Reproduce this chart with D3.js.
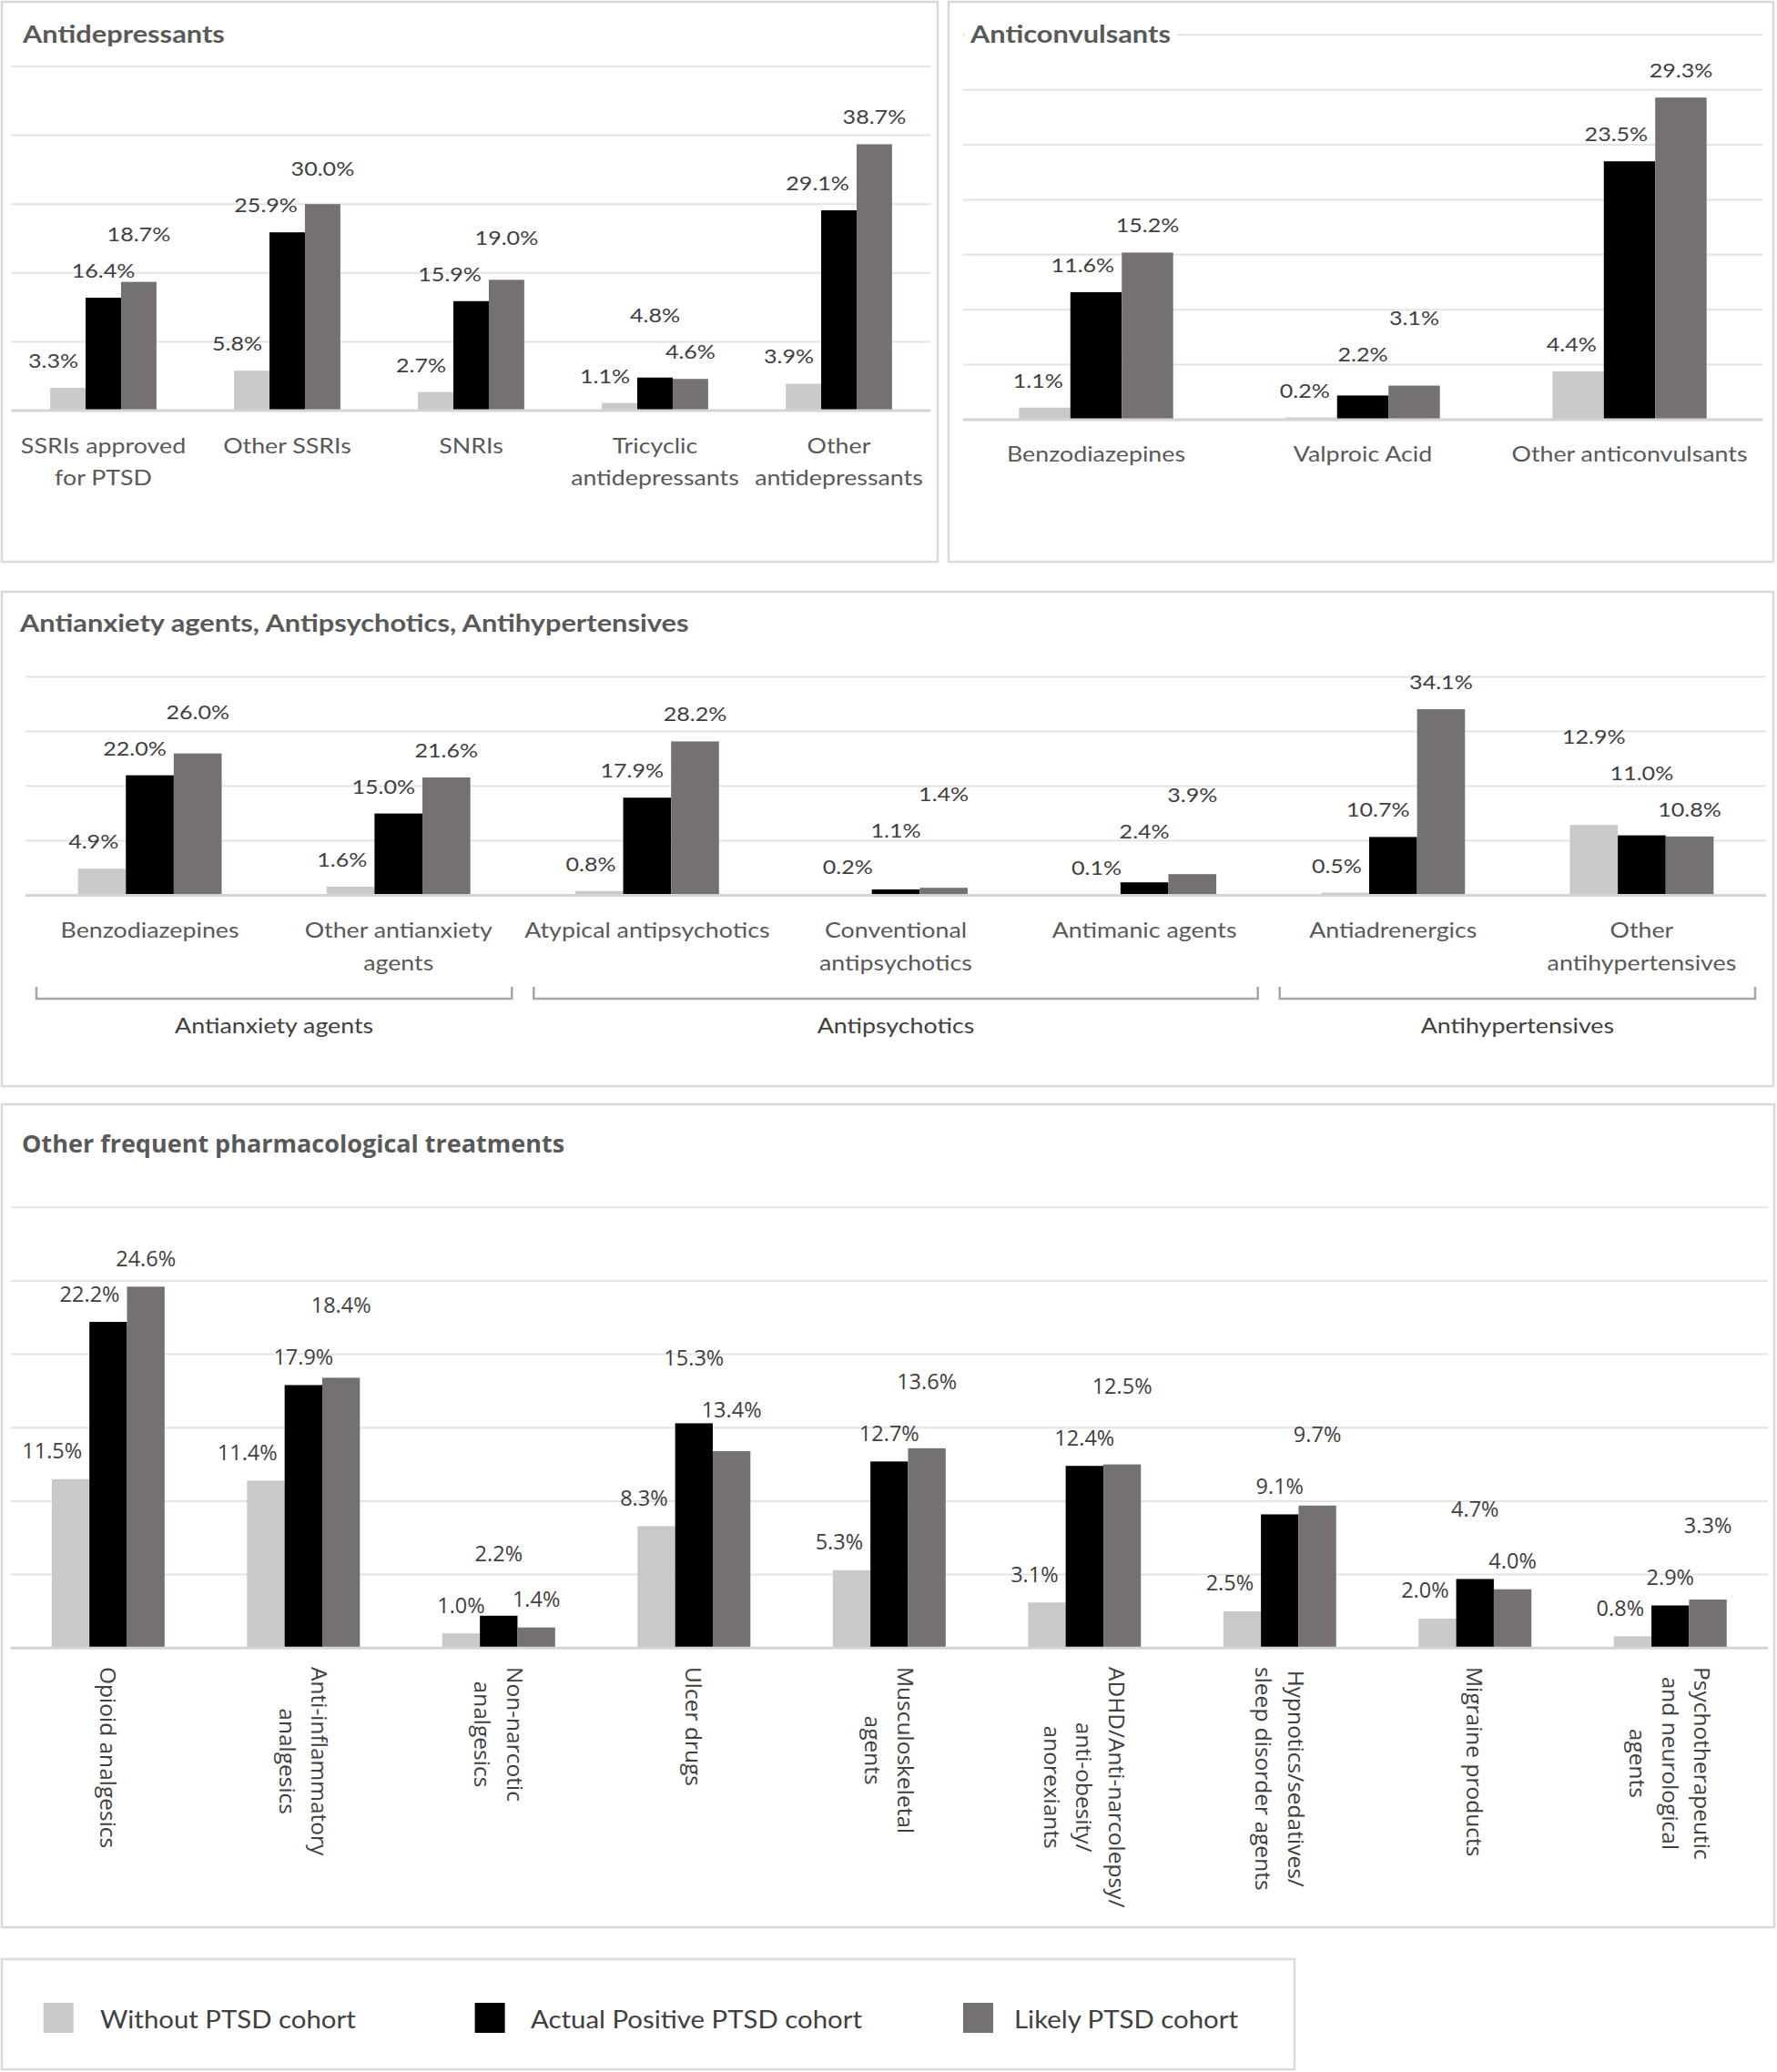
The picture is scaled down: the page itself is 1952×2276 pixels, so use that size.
<!DOCTYPE html>
<html><head><meta charset="utf-8">
<script src="https://cdn.jsdelivr.net/npm/d3@7"></script>
<style>body{margin:0;background:#fff} svg{display:block}</style>
</head><body>
<svg id="chart" width="1952" height="2276"></svg>
<script>
// ---------------- DATA ----------------
const seriesNames = ["Without PTSD cohort", "Actual Positive PTSD cohort", "Likely PTSD cohort"];

const antidepCategories = ["SSRIs approved\nfor PTSD", "Other SSRIs", "SNRIs", "Tricyclic\nantidepressants", "Other\nantidepressants"];
const antidepWithout = [3.3, 5.8, 2.7, 1.1, 3.9];
const antidepActual  = [16.4, 25.9, 15.9, 4.8, 29.1];
const antidepLikely  = [18.7, 30.0, 19.0, 4.6, 38.7];

const anticonvCategories = ["Benzodiazepines", "Valproic Acid", "Other anticonvulsants"];
const anticonvWithout = [1.1, 0.2, 4.4];
const anticonvActual  = [11.6, 2.2, 23.5];
const anticonvLikely  = [15.2, 3.1, 29.3];

const mixedCategories = ["Benzodiazepines", "Other antianxiety\nagents", "Atypical antipsychotics", "Conventional\nantipsychotics", "Antimanic agents", "Antiadrenergics", "Other\nantihypertensives"];
const mixedWithout = [4.9, 1.6, 0.8, 0.2, 0.1, 0.5, 12.9];
const mixedActual  = [22.0, 15.0, 17.9, 1.1, 2.4, 10.7, 11.0];
const mixedLikely  = [26.0, 21.6, 28.2, 1.4, 3.9, 34.1, 10.8];
const mixedGroupNames = ["Antianxiety agents", "Antipsychotics", "Antihypertensives"];
const mixedGroupFirst = [0, 2, 5];
const mixedGroupLast  = [1, 4, 6];

const otherCategories = ["Opioid analgesics", "Anti-inflammatory\nanalgesics", "Non-narcotic\nanalgesics", "Ulcer drugs", "Musculoskeletal\nagents", "ADHD/Anti-narcolepsy/\nanti-obesity/\nanorexiants", "Hypnotics/sedatives/\nsleep disorder agents", "Migraine products", "Psychotherapeutic\nand neurological\nagents"];
const otherWithout = [11.5, 11.4, 1.0, 8.3, 5.3, 3.1, 2.5, 2.0, 0.8];
const otherActual  = [22.2, 17.9, 2.2, 15.3, 12.7, 12.4, 9.1, 4.7, 2.9];
const otherLikely  = [24.6, 18.4, 1.4, 13.4, 13.6, 12.5, 9.7, 4.0, 3.3];

// ---------------- STYLE / LAYOUT ----------------
const seriesColors = ["#c9c9c9", "#000000", "#767171"];
const styles = {
  calibri: {font: "Lato", labelSize: 22, catSize: 23.5, titleSize: 27, sx: 1.14},
  segoe:   {font: "Open Sans", labelSize: 23.5, catSize: 24.5, titleSize: 27, sx: 1}
};

const panels = [
  {title: "Antidepressants", cats: antidepCategories, vals: [antidepWithout, antidepActual, antidepLikely],
   box: [2, 2, 1030, 617], titleX: 25, titleY: 46.5, left: 12.5, right: 1022.5, base: 451, top: 73, max: 50, step: 10,
   catY: 498, catLineH: 35.5, style: "calibri", H: 40, jump: 40, offset: 30},
  {title: "Anticonvulsants", cats: anticonvCategories, vals: [anticonvWithout, anticonvActual, anticonvLikely],
   box: [1042, 2, 1948, 617], titleX: 1066, titleY: 46.5, left: 1057.5, right: 1936.5, base: 461, top: 38.3, max: 35, step: 5,
   catY: 507, catLineH: 35.5, style: "calibri", H: 40, jump: 40, offset: 30, titleBg: true},
  {title: "Antianxiety agents, Antipsychotics, Antihypertensives", cats: mixedCategories, vals: [mixedWithout, mixedActual, mixedLikely],
   box: [2, 650, 1948, 1193], titleX: 22, titleY: 693.5, left: 28, right: 1940, base: 983.6, top: 743.6, max: 40, step: 10,
   catY: 1030, catLineH: 36, style: "calibri", H: 40, jump: 40, offset: 30,
   groups: true, bracketTop: 1084, bracketBottom: 1097, groupY: 1135, bracketInset: 12},
  {title: "Other frequent pharmacological treatments", cats: otherCategories, vals: [otherWithout, otherActual, otherLikely],
   box: [2, 1213, 1949, 2117], titleX: 24, titleY: 1265.5, left: 11.6, right: 1942, base: 1810.3, top: 1326.2, max: 30, step: 5,
   rotated: true, catTop: 1831, catLineH: 35.5, style: "segoe", H: 33, jump: 57, offset: 31}
];

const legendLayout = {box: [2, 2152, 1422, 2273], swatchX: [47.7, 521.6, 1058], textX: [110, 583, 1114], swatchY: 2200, swatch: 33, textY: 2228, size: 26, sx: 1.13};

const svg = d3.select("#chart");
const fmt = v => v.toFixed(1) + "%";
const labelColor = "#404040", catColor = "#595959", titleColor = "#595959";

function stretchedText(g, x, y, str, st, size, opts = {}) {
  const sx = opts.sx || st.sx;
  const t = g.append("text")
    .attr("transform", `translate(${x},${y}) scale(${sx},1)`)
    .attr("font-family", st.font)
    .attr("font-size", size)
    .attr("fill", opts.fill || labelColor)
    .attr("font-weight", opts.bold ? 700 : 400)
    .attr("text-anchor", opts.anchor || "start")
    .text(str);
  return t;
}

panels.forEach(p => {
  const st = styles[p.style];
  const g = svg.append("g");
  g.append("rect").attr("x", p.box[0]).attr("y", p.box[1])
    .attr("width", p.box[2] - p.box[0]).attr("height", p.box[3] - p.box[1])
    .attr("fill", "#fff").attr("stroke", "#d9d9d9").attr("stroke-width", 2.5);

  const y = d3.scaleLinear().domain([0, p.max]).range([p.base, p.top]);
  const idx = d3.range(p.cats.length);
  const gap = 2.19 / 5.19;
  const x0 = d3.scaleBand().domain(idx).range([p.left, p.right]).paddingInner(gap).paddingOuter(gap / 2);
  const x1 = d3.scaleBand().domain([0, 1, 2]).range([0, x0.bandwidth()]);

  // gridlines
  g.selectAll("line.grid").data(d3.range(p.step, p.max + 0.001, p.step)).join("line")
    .attr("x1", p.left).attr("x2", p.right).attr("y1", d => y(d)).attr("y2", d => y(d))
    .attr("stroke", "#e4e4e4").attr("stroke-width", 2);

  // title
  const tt = stretchedText(g, p.titleX, p.titleY, p.title, st, st.titleSize, {bold: true, fill: titleColor});
  if (p.titleBg) {
    const bb = tt.node().getBBox();
    g.insert("rect", () => tt.node()).attr("x", p.titleX - 6).attr("y", p.titleY - 26)
      .attr("width", bb.width * st.sx + 12).attr("height", 34).attr("fill", "#fff");
  }

  // bars
  const rows = idx.map(i => ({i, v: [0, 1, 2].map(s => p.vals[s][i])}));
  const grp = g.selectAll("g.cat").data(rows).join("g").attr("transform", d => `translate(${x0(d.i)},0)`);
  grp.selectAll("rect").data(d => d.v.map((v, s) => ({v, s}))).join("rect")
    .attr("x", d => x1(d.s)).attr("width", x1.bandwidth())
    .attr("y", d => y(d.v)).attr("height", d => y(0) - y(d.v))
    .attr("fill", d => seriesColors[d.s]);

  // axis line
  g.append("line").attr("x1", p.left).attr("x2", p.right).attr("y1", y(0)).attr("y2", y(0))
    .attr("stroke", "#d4d4d4").attr("stroke-width", 3);

  // data labels with simple collision avoidance
  const halfGlyph = 9, xgap = 8, xmargin = 10;
  rows.forEach(r => {
    const labs = r.v.map((v, s) => {
      const bx = x0(r.i) + x1(s), bw = x1.bandwidth(), top = y(v);
      const t = stretchedText(g, 0, 0, fmt(v), st, st.labelSize, {anchor: "middle", fill: labelColor});
      const w = t.node().getComputedTextLength() * st.sx;
      return {s, t, w, bx, bw, top, cy: top - p.offset};
    });
    const fixX = L => {
      L.cx = L.bx + L.bw / 2;
      if (L.s < 2) {
        const N = labs[L.s + 1];
        if (N.top < L.cy + halfGlyph && L.cx + L.w / 2 > N.bx - xgap) L.cx = N.bx - xgap - L.w / 2;
      }
      if (L.s > 0) {
        const Pv = labs[L.s - 1];
        if (Pv.top < L.cy + halfGlyph && L.cx - L.w / 2 < Pv.bx + Pv.bw) L.cy = Pv.top - halfGlyph - 6;
      }
    };
    const overlapX = (A, B) => (A.cx - A.w / 2 < B.cx + B.w / 2 + xmargin) && (B.cx - B.w / 2 < A.cx + A.w / 2 + xmargin);
    const order = labs.slice().sort((a, b) => b.cy - a.cy);
    const placed = [];
    order.forEach(L => {
      fixX(L);
      let moved = true, guard = 0;
      while (moved && guard++ < 10) {
        moved = false;
        for (const P of placed) {
          if (overlapX(L, P) && Math.abs(L.cy - P.cy) < p.H) {
            L.cy = P.cy - p.jump; fixX(L); moved = true;
          }
        }
      }
      placed.push(L);
    });
    labs.forEach(L => L.t.attr("transform", `translate(${L.cx},${L.cy + 0.36 * st.labelSize}) scale(${st.sx},1)`));
  });

  // category labels
  if (!p.rotated) {
    idx.forEach(i => {
      const lines = p.cats[i].split("\n");
      const cx = x0(i) + x0.bandwidth() / 2;
      const t = g.append("text")
        .attr("transform", `translate(${cx},${p.catY}) scale(${st.sx},1)`)
        .attr("font-family", st.font).attr("font-size", st.catSize).attr("fill", catColor)
        .attr("text-anchor", "middle");
      lines.forEach((ln, k) => t.append("tspan").attr("x", 0).attr("y", k * p.catLineH).text(ln));
    });
  } else {
    idx.forEach(i => {
      const lines = p.cats[i].split("\n");
      const n = lines.length;
      const cx = x0(i) + x0.bandwidth() / 2;
      const t = g.append("text")
        .attr("font-family", st.font).attr("font-size", st.catSize).attr("fill", labelColor)
        .attr("text-anchor", "middle");
      const spans = lines.map((ln, k) => t.append("tspan").attr("x", 0)
        .attr("y", (k - (n - 1) / 2) * p.catLineH + 0.36 * st.catSize).text(ln));
      const maxLen = d3.max(spans, s => s.node().getComputedTextLength());
      t.attr("transform", `translate(${cx},${p.catTop + maxLen / 2}) rotate(90)`);
    });
  }

  // group brackets
  if (p.groups) {
    mixedGroupNames.forEach((name, k) => {
      const xa = x0(mixedGroupFirst[k]) - x0.step() * gap / 2 + p.bracketInset;
      const xb = x0(mixedGroupLast[k]) + x0.bandwidth() + x0.step() * gap / 2 - p.bracketInset;
      g.append("path")
        .attr("d", `M${xa},${p.bracketTop}V${p.bracketBottom}H${xb}V${p.bracketTop}`)
        .attr("fill", "none").attr("stroke", "#a6a6a6").attr("stroke-width", 2.5);
      stretchedText(g, (xa + xb) / 2, p.groupY, name, st, st.catSize, {anchor: "middle", fill: labelColor});
    });
  }
});

// legend
(function () {
  const L = legendLayout, st = styles.calibri;
  const g = svg.append("g");
  g.append("rect").attr("x", L.box[0]).attr("y", L.box[1]).attr("width", L.box[2] - L.box[0]).attr("height", L.box[3] - L.box[1])
    .attr("fill", "#fff").attr("stroke", "#d9d9d9").attr("stroke-width", 2.5);
  seriesNames.forEach((nm, s) => {
    g.append("rect").attr("x", L.swatchX[s]).attr("y", L.swatchY).attr("width", L.swatch).attr("height", L.swatch)
      .attr("fill", seriesColors[s]);
    stretchedText(g, L.textX[s], L.textY, nm, st, L.size, {fill: labelColor, sx: L.sx});
  });
})();
</script>
</body></html>
